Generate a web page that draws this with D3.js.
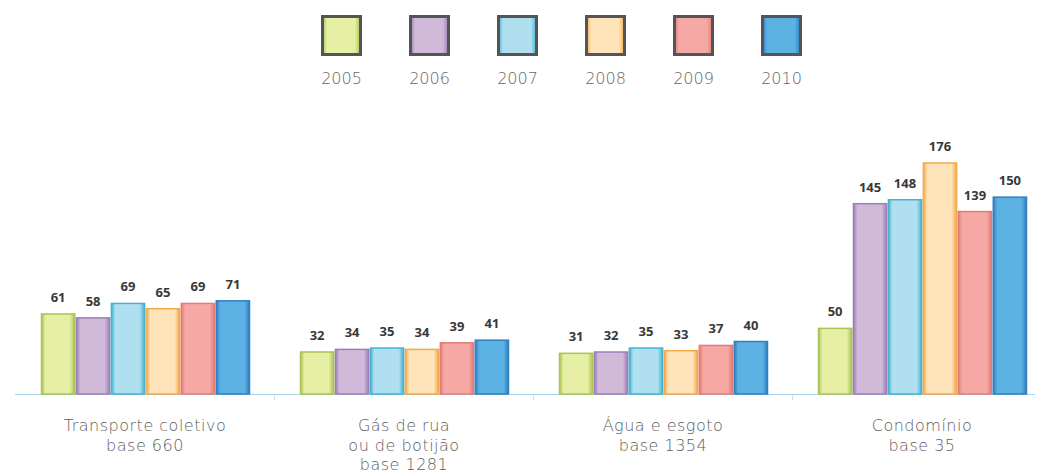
<!DOCTYPE html>
<html>
<head>
<meta charset="utf-8">
<script src="https://cdn.jsdelivr.net/npm/d3@7"></script>
<style>
  body { margin: 0; background: #fff; }
  svg { display: block; }
</style>
</head>
<body>
<svg width="1043" height="474"></svg>
<script>
var years = ["2005", "2006", "2007", "2008", "2009", "2010"];
var categories = ["Transporte coletivo", "Gás de rua", "Água e esgoto", "Condomínio"];
var subLabels = [["base 660"], ["ou de botijão", "base 1281"], ["base 1354"], ["base 35"]];
var transporte = [61, 58, 69, 65, 69, 71];
var gas = [32, 34, 35, 34, 39, 41];
var agua = [31, 32, 35, 33, 37, 40];
var condominio = [50, 145, 148, 176, 139, 150];
var series = [transporte, gas, agua, condominio];

var fills = ["#e6efa4", "#d0b9d9", "#b0e0f0", "#fee4b8", "#f6a9a4", "#5cb1e3"];
var edges = ["#a9c452", "#9c7fb6", "#45b3d0", "#f3a94a", "#e27c76", "#2f7fc2"];

var svg = d3.select("svg"),
    width = +svg.attr("width"),
    height = +svg.attr("height");

var defs = svg.append("defs");
years.forEach(function(y, i) {
    var gr = defs.append("linearGradient")
        .attr("id", "g" + y)
        .attr("x1", 0).attr("x2", 1).attr("y1", 0).attr("y2", 0);
    gr.append("stop").attr("offset", "0%").attr("stop-color", edges[i]);
    gr.append("stop").attr("offset", "12%").attr("stop-color", fills[i]);
    gr.append("stop").attr("offset", "85%").attr("stop-color", fills[i]);
    gr.append("stop").attr("offset", "100%").attr("stop-color", edges[i]);
});

var x0 = d3.scaleBand().domain(categories).range([15.5, 1051.5]);
var x1 = d3.scaleBand().domain(years).range([26, 234]).paddingInner(0.05);
var y = d3.scaleLinear().domain([0, 176]).range([394, 163]);

var lightFont = "'DejaVu Sans', sans-serif";

// legend
var legend = svg.append("g");
var lx = d3.scaleBand().domain(years).range([321, 849]);
var item = legend.selectAll("g").data(years).enter().append("g")
    .attr("transform", function(d) { return "translate(" + lx(d) + ",0)"; });
item.append("rect")
    .attr("x", 1.5).attr("y", 16.5)
    .attr("width", 38).attr("height", 38)
    .attr("fill", function(d) { return "url(#g" + d + ")"; })
    .attr("stroke", "#555")
    .attr("stroke-width", 3);
item.append("text")
    .attr("x", 20.5).attr("y", 84)
    .attr("text-anchor", "middle")
    .attr("font-family", lightFont)
    .attr("font-weight", 200)
    .attr("font-size", 16)
    .attr("fill", "#666")
    .text(function(d) { return d; });

// axis line
svg.append("line")
    .attr("x1", 15).attr("x2", 1035)
    .attr("y1", 394.5).attr("y2", 394.5)
    .attr("stroke", "#a9d3ea").attr("stroke-width", 1.2);
svg.selectAll(".tick").data(categories.slice(1)).enter().append("line")
    .attr("x1", function(d) { return x0(d); })
    .attr("x2", function(d) { return x0(d); })
    .attr("y1", 394.5).attr("y2", 400)
    .attr("stroke", "#c8e2f0");

var groups = svg.selectAll(".grp").data(categories).enter().append("g")
    .attr("class", "grp")
    .attr("transform", function(d) { return "translate(" + x0(d) + ",0)"; });

var bars = groups.selectAll(".bar")
    .data(function(d, i) { return series[i].map(function(v, j) { return { year: years[j], value: v }; }); })
    .enter().append("g").attr("class", "bar");

bars.append("rect")
    .attr("x", function(d) { return x1(d.year); })
    .attr("y", function(d) { return y(d.value); })
    .attr("width", x1.bandwidth())
    .attr("height", function(d) { return y(0) - y(d.value); })
    .attr("fill", function(d) { return "url(#g" + d.year + ")"; })
    .attr("stroke", function(d) { return edges[years.indexOf(d.year)]; })
    .attr("stroke-width", 1.5);

bars.append("text")
    .attr("x", function(d) { return x1(d.year) + x1.bandwidth() / 2; })
    .attr("y", function(d) { return y(d.value) - 12; })
    .attr("text-anchor", "middle")
    .attr("font-family", "'Open Sans', sans-serif")
    .attr("font-weight", "bold")
    .attr("font-size", 13)
    .attr("fill", "#383838")
    .text(function(d) { return d.value; });

// category labels
var lab = groups.append("text")
    .attr("text-anchor", "middle")
    .attr("font-family", lightFont)
    .attr("font-weight", 200)
    .attr("font-size", 16)
    .attr("letter-spacing", 0.5)
    .attr("fill", "#5e5e5e");
lab.append("tspan")
    .attr("x", x0.bandwidth() / 2).attr("y", 431)
    .text(function(d) { return d; });
lab.each(function(d, i) {
    var t = d3.select(this);
    subLabels[i].forEach(function(s, k) {
        t.append("tspan")
            .attr("x", x0.bandwidth() / 2)
            .attr("y", 450.5 + k * 19.5)
            .text(s);
    });
});
</script>
</body>
</html>
